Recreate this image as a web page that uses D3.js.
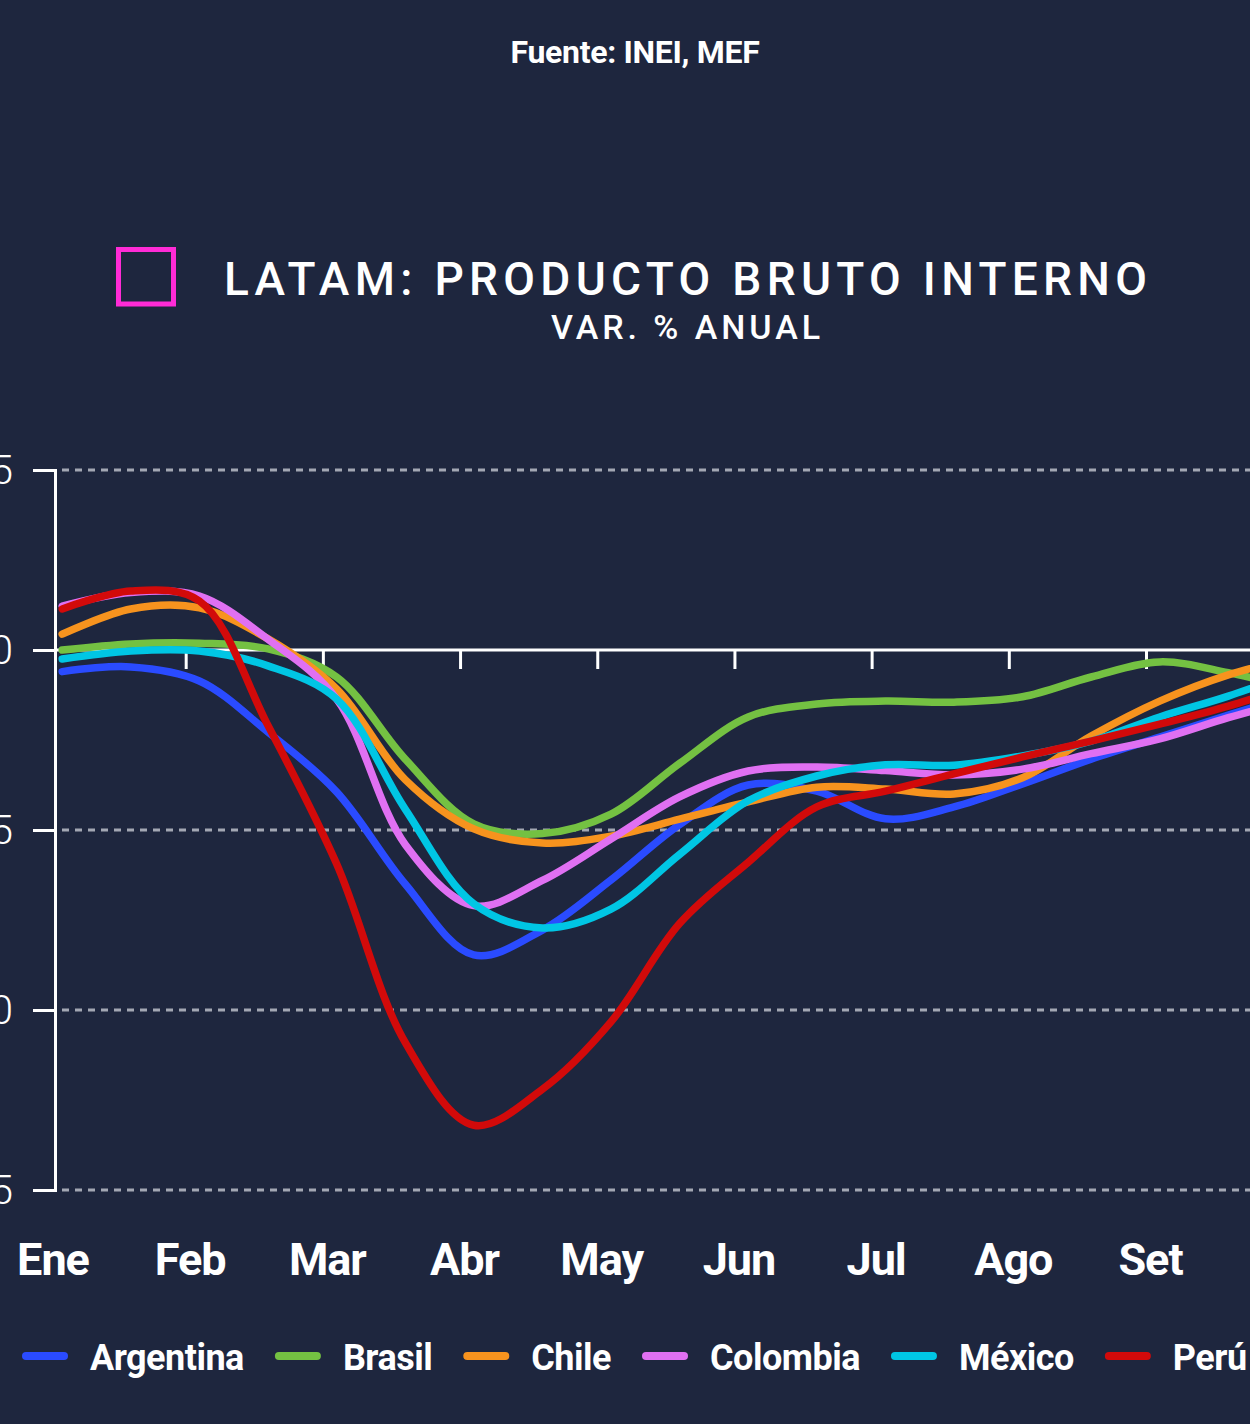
<html>
<head>
<meta charset="utf-8">
<title>LATAM PBI</title>
<script src="https://d3js.org/d3.v7.min.js"></script>
<style>
  body { margin: 0; background: #1e263e; }
  svg { display: block; font-family: Roboto, "Noto Sans", sans-serif; }
</style>
</head>
<body>
<svg id="chart" width="1250" height="1424"></svg>
<script>
// meses del eje x
const meses = ["Ene", "Feb", "Mar", "Abr", "May", "Jun", "Jul", "Ago", "Set"];
// posición de cada dato, en meses desde Ene (quincenal)
const periodo = [0.1, 0.6, 1.1, 1.6, 2.1, 2.6, 3.1, 3.6, 4.1, 4.6, 5.1, 5.6, 6.1, 6.6, 7.1, 7.6, 8.1, 8.6, 9.1];

const argentina = [-0.6, -0.47, -0.86, -2.28, -3.94, -6.5, -8.47, -7.78, -6.39, -4.85, -3.75, -3.92, -4.69, -4.36, -3.72, -3.03, -2.42, -1.81, -1.22];
const brasil    = [0, 0.17, 0.19, 0.03, -0.75, -3.03, -4.83, -5.1, -4.56, -3.15, -1.86, -1.5, -1.42, -1.45, -1.3, -0.75, -0.33, -0.63, -1.08];
const chile     = [0.44, 1.14, 1.17, 0.31, -1.08, -3.6, -4.97, -5.36, -5.17, -4.7, -4.22, -3.81, -3.86, -4.0, -3.55, -2.39, -1.42, -0.69, -0.2];
const colombia  = [1.22, 1.6, 1.5, 0.3, -1.36, -5.4, -7.1, -6.4, -5.25, -4.08, -3.36, -3.25, -3.35, -3.47, -3.31, -2.88, -2.47, -1.88, -1.36];
const mexico    = [-0.25, -0.03, -0.03, -0.44, -1.36, -4.42, -7.05, -7.72, -7.2, -5.68, -4.19, -3.5, -3.19, -3.2, -2.94, -2.53, -1.86, -1.28, -0.6];
const peru      = [1.14, 1.64, 1.36, -2.1, -5.94, -10.9, -13.2, -12.2, -10.33, -7.6, -5.9, -4.36, -3.92, -3.44, -2.97, -2.53, -2.06, -1.56, -0.94];

const yTicks = [-15, -10, -5, 0, 5];

const series = [
  { name: "Argentina", values: argentina, color: "#2a4bff" },
  { name: "Brasil",    values: brasil,    color: "#74c142" },
  { name: "Chile",     values: chile,     color: "#f7931e" },
  { name: "Colombia",  values: colombia,  color: "#e070f2" },
  { name: "México",    values: mexico,    color: "#00c6e4" },
  { name: "Perú",      values: peru,      color: "#d20a0a" }
];

var svg = d3.select("#chart");

var x = d3.scaleLinear().domain([0, 8]).range([48.5, 1146]);
var y = d3.scaleLinear().domain([-15, 5]).range([1190, 470]);

// fuente y título
svg.append("text")
    .attr("x", 635).attr("y", 63)
    .attr("text-anchor", "middle")
    .attr("fill", "#fff")
    .style("font-size", "32px").style("font-weight", 700)
    .style("letter-spacing", "-0.3px")
    .text("Fuente: INEI, MEF");

svg.append("rect")
    .attr("x", 118.5).attr("y", 249.5)
    .attr("width", 55).attr("height", 54.5)
    .attr("fill", "none")
    .attr("stroke", "#ff2bd6").attr("stroke-width", 5);

svg.append("text")
    .attr("x", 224).attr("y", 295)
    .attr("fill", "#fff")
    .attr("textLength", 923).attr("lengthAdjust", "spacing")
    .style("font-size", "46px").style("font-weight", 500)
    .text("LATAM: PRODUCTO BRUTO INTERNO");

svg.append("text")
    .attr("x", 551).attr("y", 339)
    .attr("fill", "#fff")
    .attr("textLength", 269).attr("lengthAdjust", "spacing")
    .style("font-size", "34px").style("font-weight", 500)
    .text("VAR. % ANUAL");

// líneas de referencia punteadas
svg.append("g")
  .selectAll("line")
  .data(yTicks.filter(d => d !== 0))
  .enter()
  .append("line")
    .attr("x1", 62).attr("x2", 1250)
    .attr("y1", d => y(d)).attr("y2", d => y(d))
    .attr("stroke", "#a3a7b3").attr("stroke-width", 3)
    .attr("stroke-dasharray", "7,6");

// eje y
var yAxis = svg.append("g")
    .attr("transform", "translate(55,0)")
    .call(d3.axisLeft(y).tickValues(yTicks).tickSize(22).tickPadding(20));
yAxis.select(".domain").attr("stroke", "#fff").attr("stroke-width", 3);
yAxis.selectAll(".tick line").attr("stroke", "#fff").attr("stroke-width", 3);
yAxis.selectAll(".tick text")
    .attr("fill", "#fff")
    .style("font-size", "41px").style("font-weight", 300)
    .style("font-family", "Roboto, sans-serif");

// línea del cero y marcas de mes
svg.append("line")
    .attr("x1", 55).attr("x2", 1250)
    .attr("y1", y(0)).attr("y2", y(0))
    .attr("stroke", "#fff").attr("stroke-width", 3);

var xAxis = svg.append("g")
    .attr("transform", "translate(0," + y(0) + ")")
    .call(d3.axisBottom(x).tickValues([1, 2, 3, 4, 5, 6, 7, 8, 9]).tickSize(19).tickFormat(""));
xAxis.select(".domain").remove();
xAxis.selectAll(".tick line").attr("stroke", "#fff").attr("stroke-width", 3);

// etiquetas de mes
svg.append("g")
  .selectAll("text")
  .data(meses)
  .enter()
  .append("text")
    .attr("x", (d, i) => x(i) + 4.5)
    .attr("y", 1275)
    .attr("text-anchor", "middle")
    .attr("fill", "#fff")
    .style("font-size", "45px").style("font-weight", 700)
    .style("letter-spacing", "-1px")
    .text(d => d);

// series
var line = d3.line()
    .x((d, i) => x(periodo[i]))
    .y(d => y(d))
    .curve(d3.curveCatmullRom.alpha(0.5));

svg.append("g")
  .selectAll("path")
  .data(series)
  .enter()
  .append("path")
    .attr("d", d => line(d.values))
    .attr("fill", "none")
    .attr("stroke", d => d.color)
    .attr("stroke-width", 7.5)
    .attr("stroke-linecap", "round")
    .attr("stroke-linejoin", "round");

// leyenda
var legend = svg.append("g");
var lx = 22;
series.forEach(function (s) {
  legend.append("line")
      .attr("x1", lx + 4).attr("x2", lx + 42)
      .attr("y1", 1356).attr("y2", 1356)
      .attr("stroke", s.color).attr("stroke-width", 8)
      .attr("stroke-linecap", "round");
  var t = legend.append("text")
      .attr("x", lx + 68).attr("y", 1370)
      .attr("fill", "#fff")
      .style("font-size", "36px").style("font-weight", 700)
      .style("letter-spacing", "-0.5px")
      .text(s.name);
  lx = lx + 68 + t.node().getComputedTextLength() + 31;
});
</script>
</body>
</html>
